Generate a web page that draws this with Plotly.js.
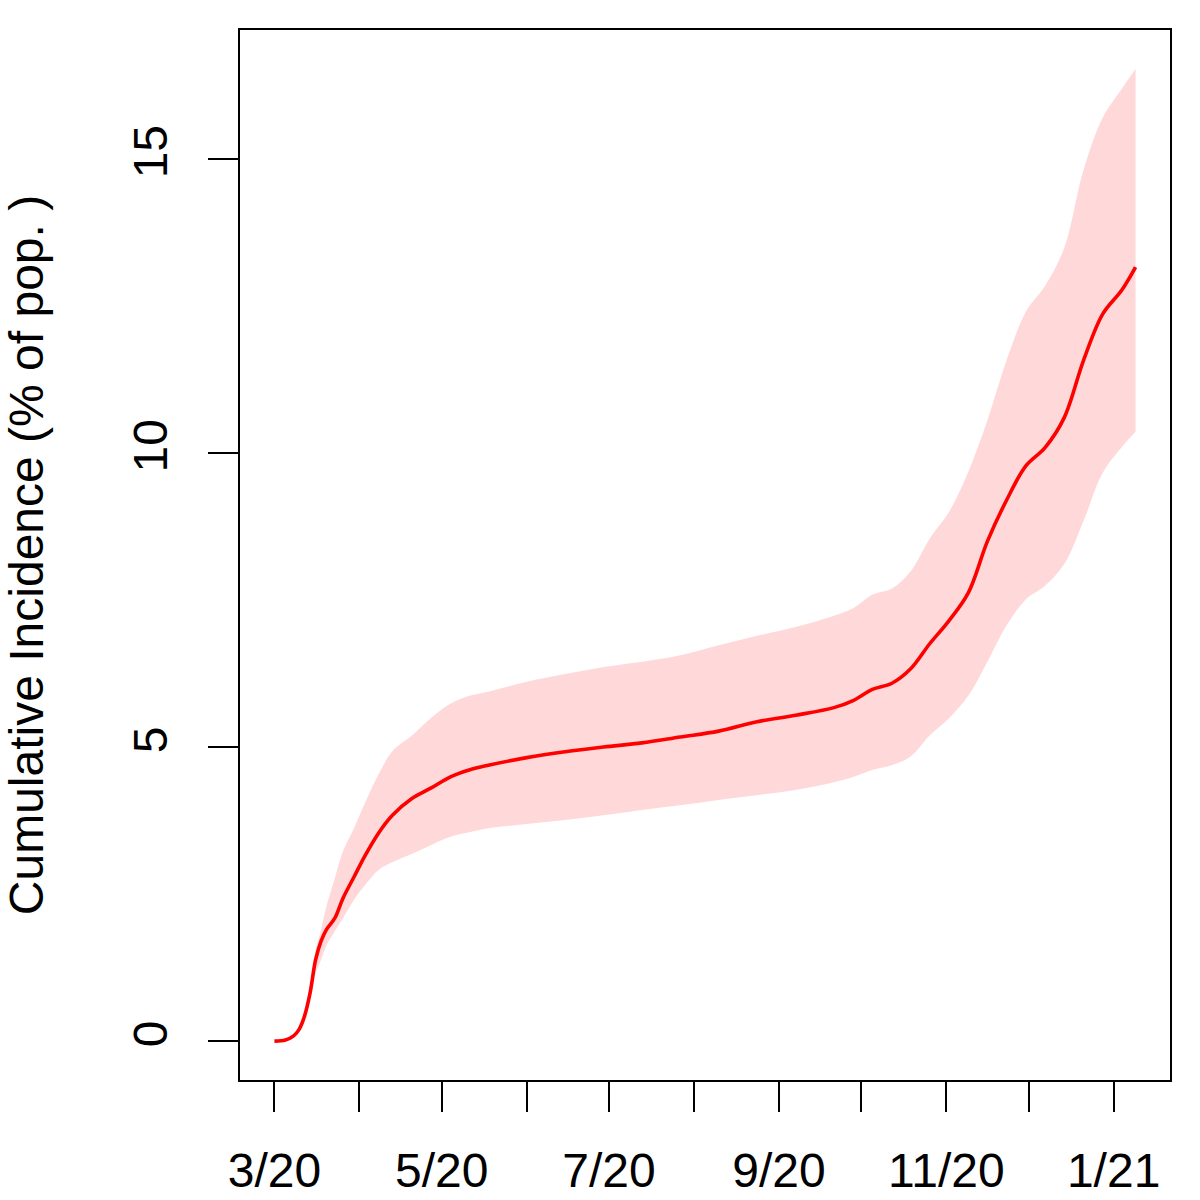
<!DOCTYPE html>
<html>
<head>
<meta charset="utf-8">
<script src="https://cdn.plot.ly/plotly-3.0.1.min.js"></script>
<style>html,body{margin:0;padding:0;background:#fff;}#chart{width:1200px;height:1200px;}</style>
</head>
<body>
<div id="chart"></div>
<script>
const dates = ['2020-03-01','2020-03-05','2020-03-08','2020-03-10','2020-03-12','2020-03-14','2020-03-16','2020-03-18','2020-03-20','2020-03-23','2020-03-26','2020-03-30','2020-04-03','2020-04-08','2020-04-13','2020-04-20','2020-04-27','2020-05-04','2020-05-11','2020-05-18','2020-06-01','2020-06-15','2020-06-29','2020-07-13','2020-07-27','2020-08-10','2020-08-24','2020-09-07','2020-09-21','2020-09-28','2020-10-05','2020-10-12','2020-10-19','2020-10-26','2020-11-02','2020-11-09','2020-11-16','2020-11-23','2020-11-30','2020-12-07','2020-12-14','2020-12-21','2020-12-28','2021-01-04','2021-01-09'];
const incidence = [0.00,0.02,0.09,0.20,0.43,0.82,1.38,1.70,1.90,2.09,2.43,2.79,3.15,3.54,3.84,4.12,4.30,4.49,4.61,4.69,4.82,4.92,5.00,5.07,5.17,5.27,5.43,5.54,5.67,5.79,5.98,6.08,6.33,6.76,7.15,7.62,8.50,9.20,9.78,10.09,10.60,11.57,12.36,12.77,13.16];
const upper = [0.00,0.02,0.10,0.22,0.47,0.95,1.55,1.89,2.30,2.77,3.23,3.62,4.05,4.54,4.93,5.19,5.49,5.73,5.87,5.94,6.11,6.24,6.36,6.45,6.56,6.73,6.89,7.04,7.23,7.36,7.59,7.69,7.99,8.55,9.00,9.68,10.56,11.58,12.40,12.84,13.49,14.81,15.70,16.19,16.53];
const lower = [0.00,0.02,0.08,0.18,0.40,0.72,1.15,1.38,1.63,1.87,2.09,2.40,2.65,2.91,3.04,3.18,3.33,3.47,3.55,3.62,3.69,3.76,3.84,3.93,4.01,4.10,4.18,4.27,4.40,4.49,4.61,4.69,4.84,5.20,5.49,5.87,6.45,7.07,7.51,7.74,8.11,8.84,9.66,10.10,10.36];
const tickDates = ['2020-03-01','2020-04-01','2020-05-01','2020-06-01','2020-07-01','2020-08-01','2020-09-01','2020-10-01','2020-11-01','2020-12-01','2021-01-01'];
const tickLabels = ['3/20','','5/20','','7/20','','9/20','','11/20','','1/21'];
const yTicks = [0,5,10,15];

const FONT = '"Liberation Sans", Arial, Helvetica, sans-serif';

const traces = [
  {x: dates, y: lower, type: 'scatter', mode: 'lines', line: {width: 0, shape: 'spline', smoothing: 1, color: 'rgba(0,0,0,0)'}, hoverinfo: 'skip', showlegend: false},
  {x: dates, y: upper, type: 'scatter', mode: 'lines', fill: 'tonexty', fillcolor: 'rgba(255,0,0,0.15)', line: {width: 0, shape: 'spline', smoothing: 1, color: 'rgba(0,0,0,0)'}, hoverinfo: 'skip', showlegend: false},
  {x: dates, y: incidence, type: 'scatter', mode: 'lines', line: {color: '#FF0000', width: 3.6, shape: 'spline', smoothing: 1}, showlegend: false}
];

const layout = {
  width: 1200, height: 1200,
  paper_bgcolor: '#fff', plot_bgcolor: '#fff',
  margin: {l: 240, r: 30, t: 30, b: 120},
  font: {family: FONT, size: 48, color: '#000'},
  showlegend: false,
  xaxis: {
    type: 'date',
    range: ['2020-02-17 10:34', '2021-01-21 13:26'],
    tickmode: 'array', tickvals: tickDates, ticktext: tickLabels,
    ticks: 'outside', ticklen: 30, tickwidth: 2, tickcolor: '#000',
    showline: true, linecolor: '#000', linewidth: 2, mirror: true,
    showgrid: false, zeroline: false,
    tickfont: {family: FONT, size: 48, color: '#000'},
    ticklabelstandoff: 17
  },
  yaxis: {
    range: [-0.661, 17.19],
    tickmode: 'array', tickvals: yTicks, ticktext: yTicks.map(String),
    tickangle: -90,
    ticks: 'outside', ticklen: 30, tickwidth: 2, tickcolor: '#000',
    showline: true, linecolor: '#000', linewidth: 2, mirror: true,
    showgrid: false, zeroline: false,
    tickfont: {family: FONT, size: 48, color: '#000'},
    ticklabelstandoff: 22,
    title: {text: 'Cumulative Incidence (% of pop. )', font: {family: FONT, size: 48, color: '#000'}, standoff: 72}
  }
};

Plotly.newPlot('chart', traces, layout, {displayModeBar: false, staticPlot: true});
</script>
</body>
</html>
